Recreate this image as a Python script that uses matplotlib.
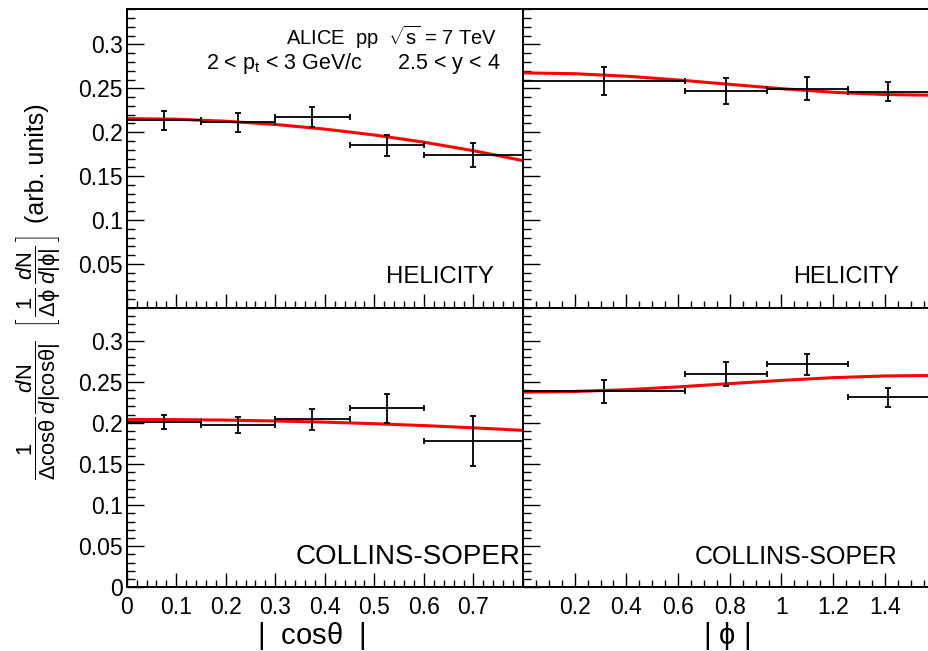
import numpy as np
import matplotlib
matplotlib.use("Agg")
import matplotlib.pyplot as plt

plt.rcParams['font.family'] = ['Liberation Sans', 'DejaVu Sans']
plt.rcParams['mathtext.fontset'] = 'custom'
plt.rcParams['mathtext.rm'] = 'Liberation Sans'
plt.rcParams['mathtext.it'] = 'Liberation Sans:italic'
plt.rcParams['mathtext.sf'] = 'Liberation Sans'
plt.rcParams['mathtext.bf'] = 'Liberation Sans:bold'

# ---------------- data ----------------
# |cos(theta)| bins
cos_centers = [0.075, 0.225, 0.375, 0.525, 0.70]
cos_halfw = [0.075, 0.075, 0.075, 0.075, 0.10]
# |phi| bins (in units of pi)
phi_centers_pi = [0.10, 0.25, 0.35, 0.45]
phi_halfw_pi = [0.10, 0.05, 0.05, 0.05]

hel_cos = [0.2136, 0.2113, 0.2174, 0.1850, 0.1740]
hel_cos_err = [0.0110, 0.0108, 0.0112, 0.0118, 0.0137]
hel_phi = [0.2580, 0.2467, 0.2497, 0.2463]
hel_phi_err = [0.0161, 0.0148, 0.0127, 0.0110]
cs_cos = [0.2010, 0.1978, 0.2042, 0.2180, 0.1780]
cs_cos_err = [0.0085, 0.0095, 0.0130, 0.0176, 0.0300]
cs_phi = [0.2382, 0.2592, 0.2714, 0.2310]
cs_phi_err = [0.0140, 0.0143, 0.0126, 0.0115]

# fit curves
fit_cos_x = [0.0, 0.1, 0.2, 0.3, 0.4, 0.5, 0.6, 0.7, 0.8]
hel_cos_fit = [0.2155, 0.2148, 0.2125, 0.2088, 0.2035, 0.1968, 0.1886, 0.1789, 0.1676]
cs_cos_fit = [0.2042, 0.2040, 0.2034, 0.2023, 0.2009, 0.1990, 0.1967, 0.1940, 0.1909]
fit_phi_x = [0.0, 0.2, 0.4, 0.6, 0.8, 1.0, 1.2, 1.4, 1.5708]
hel_phi_fit = [0.2676, 0.2666, 0.2638, 0.2595, 0.2545, 0.2496, 0.2455, 0.2429, 0.2422]
cs_phi_fit = [0.2374, 0.2382, 0.2404, 0.2438, 0.2478, 0.2517, 0.2550, 0.2571, 0.2576]

cos_ticks = [0, 0.1, 0.2, 0.3, 0.4, 0.5, 0.6, 0.7]
cos_ticklabels = ['0', '0.1', '0.2', '0.3', '0.4', '0.5', '0.6', '0.7']
phi_ticks = [0.2, 0.4, 0.6, 0.8, 1.0, 1.2, 1.4]
phi_ticklabels = ['0.2', '0.4', '0.6', '0.8', '1', '1.2', '1.4']
y_ticks = [0, 0.05, 0.1, 0.15, 0.2, 0.25, 0.3]
y_ticklabels = ['0', '0.05', '0.1', '0.15', '0.2', '0.25', '0.3']

# ---------------- layout ----------------
W, H = 929, 651
fig = plt.figure(figsize=(W / 100, H / 100), dpi=100)


def box(x0, y0, x1, y1):
    return [x0 / W, 1 - y1 / H, (x1 - x0) / W, (y1 - y0) / H]


xl0, xmid, xr1 = 126.7, 523.0, 929.0
yt0, ymid, yb1 = 9.3, 307.8, 587.3

axTL = fig.add_axes(box(xl0, yt0, xmid, ymid))
axTR = fig.add_axes(box(xmid, yt0, xr1, ymid))
axBL = fig.add_axes(box(xl0, ymid, xmid, yb1))
axBR = fig.add_axes(box(xmid, ymid, xr1, yb1))

TFS = 16.5
for ax in (axTL, axTR, axBL, axBR):
    ax.set_ylim(0, 0.34)
    ax.set_yticks(y_ticks)
    ax.set_yticks(np.arange(0, 0.341, 0.01), minor=True)
    ax.tick_params(axis='both', which='both', direction='in', top=False, right=False,
                   width=1.0, labelsize=TFS)
    ax.tick_params(axis='y', which='major', length=12, pad=3)
    ax.tick_params(axis='y', which='minor', length=6)
    ax.tick_params(axis='x', which='major', length=10, pad=6)
    ax.tick_params(axis='x', which='minor', length=5)
    for s in ax.spines.values():
        s.set_linewidth(1.4)

for ax in (axTL, axBL):
    ax.set_xlim(0, 0.8)
    ax.set_xticks(cos_ticks)
    ax.set_xticks(np.arange(0, 0.801, 0.02), minor=True)
for ax in (axTR, axBR):
    ax.set_xlim(0, np.pi / 2)
    ax.set_xticks(phi_ticks)
    ax.set_xticks(np.arange(0, 1.571, 0.05), minor=True)
    ax.spines['right'].set_visible(False)
    ax.set_yticklabels([])

axTL.set_yticklabels([''] + y_ticklabels[1:])
axBL.set_yticklabels(y_ticklabels)
axTL.set_xticklabels([])
axTR.set_xticklabels([])
axBL.set_xticklabels(cos_ticklabels)
axBR.set_xticklabels(phi_ticklabels)

# ---------------- data drawing ----------------
eb = dict(fmt='none', ecolor='black', elinewidth=1.3, capsize=2.5, capthick=1.3, zorder=3)
red = dict(color='#ff0000', lw=2.2, zorder=2, solid_capstyle='butt')

phi_c = np.array(phi_centers_pi) * np.pi
phi_w = np.array(phi_halfw_pi) * np.pi

axTL.plot(fit_cos_x, hel_cos_fit, **red)
axTL.errorbar(cos_centers, hel_cos, xerr=cos_halfw, yerr=hel_cos_err, **eb)
axTR.plot(fit_phi_x, hel_phi_fit, **red)
axTR.errorbar(phi_c, hel_phi, xerr=phi_w, yerr=hel_phi_err, **eb)
axBL.plot(fit_cos_x, cs_cos_fit, **red)
axBL.errorbar(cos_centers, cs_cos, xerr=cos_halfw, yerr=cs_cos_err, **eb)
axBR.plot(fit_phi_x, cs_phi_fit, **red)
axBR.errorbar(phi_c, cs_phi, xerr=phi_w, yerr=cs_phi_err, **eb)

# ---------------- texts ----------------
def ftext(x, y, s, **kw):
    return fig.text(x / W, 1 - y / H, s, **kw)


ftext(497, 37, r'ALICE  pp  $\sqrt{\mathrm{s}}$ = 7 TeV', ha='right', va='center', fontsize=14.5)
ftext(500, 63, r'2 < p$_{\mathrm{t}}$ < 3 GeV/c      2.5 < y < 4', ha='right', va='center', fontsize=15.5)
ftext(494, 277, 'HELICITY', ha='right', va='center', fontsize=17.3)
ftext(899, 277, 'HELICITY', ha='right', va='center', fontsize=17)
ftext(521, 557, 'COLLINS-SOPER', ha='right', va='center', fontsize=20)
ftext(898, 557, 'COLLINS-SOPER', ha='right', va='center', fontsize=18)

ftext(311, 636, r'|  cos$\mathrm{\theta}$  |', ha='center', va='center', fontsize=21)
ftext(727, 636, r'| $\mathrm{\phi}$ |', ha='center', va='center', fontsize=21)

ylab_frac = (r'$\dfrac{1}{\Delta\mathrm{cos\theta}}\,\dfrac{\mathit{d}\mathrm{N}}{\mathit{d}|\mathrm{cos\theta}|}$'
             r'  $\left[\,\dfrac{1}{\Delta\mathrm{\phi}}\,\dfrac{\mathit{d}\mathrm{N}}{\mathit{d}|\mathrm{\phi}|}\,\right]$')
ftext(38, 358, ylab_frac, ha='center', va='center', rotation=90, fontsize=15.8)
ftext(37, 163, '(arb. units)', ha='center', va='center', rotation=90, fontsize=18)

fig.savefig('out.png', dpi=100)
